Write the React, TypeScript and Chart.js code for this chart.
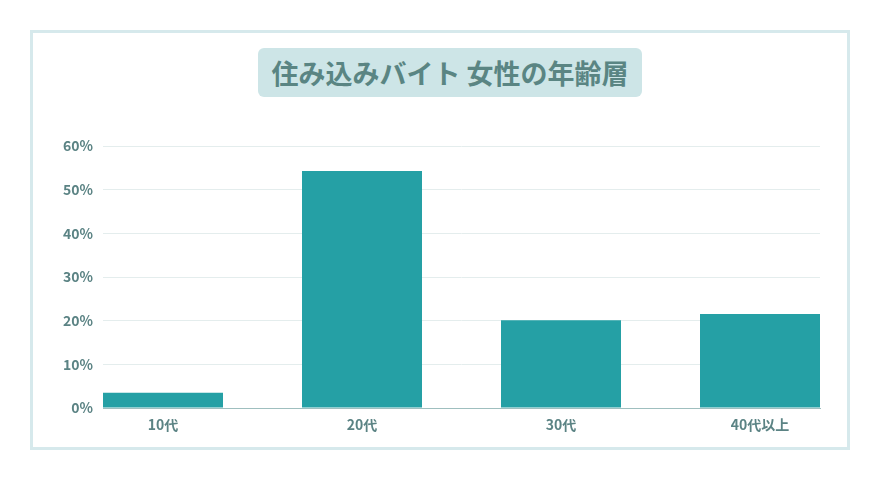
import React, { useEffect, useRef } from "react";
import { Chart, registerables } from "chart.js";

Chart.register(...registerables);

const title = "住み込みバイト 女性の年齢層";
const categories = ["10代", "20代", "30代", "40代以上"];
const values = [3.5, 54.3, 20.1, 21.5];
const yTicks = [0, 10, 20, 30, 40, 50, 60];

const FONT = "'Noto Sans CJK JP', 'Noto Sans', sans-serif";
const TEXT = "#5b8384";

export default function App() {
  const ref = useRef<HTMLCanvasElement | null>(null);

  useEffect(() => {
    if (!ref.current) return;
    const chart = new Chart(ref.current, {
      type: "bar",
      data: {
        datasets: [
          {
            data: categories.map((_, i) => ({ x: i, y: values[i] })),
            backgroundColor: "#25a0a5",
            borderWidth: 0,
            barPercentage: 0.603,
            categoryPercentage: 1,
          },
        ],
      },
      options: {
        animation: false,
        responsive: false,
        devicePixelRatio: 1,
        layout: { padding: { left: 35, right: 52, top: 138, bottom: 34 } },
        plugins: { legend: { display: false }, tooltip: { enabled: false }, title: { display: false } },
        scales: {
          x: {
            type: "linear",
            offset: false,
            min: -0.3015,
            max: 3.3015,
            afterFit: (s: any) => {
              s.height = 30;
            },
            grid: { display: false, drawTicks: false, offset: false },
            border: { display: true, color: "#9fbfbf", width: 1 },
            ticks: {
              stepSize: 1,
              includeBounds: false,
              padding: 8,
              color: TEXT,
              font: { family: FONT, size: 14, weight: "bold" },
              callback: (v: any) => (Number.isInteger(v) ? categories[v] ?? "" : ""),
            },
          },
          y: {
            min: yTicks[0],
            max: yTicks[yTicks.length - 1],
            afterFit: (s: any) => {
              s.width = 60;
            },
            afterBuildTicks: (s: any) => {
              s.ticks = yTicks.map((v) => ({ value: v }));
            },
            grid: { color: "#e4eded", drawTicks: false, lineWidth: 1 },
            border: { display: false },
            ticks: {
              padding: 10,
              color: TEXT,
              font: { family: FONT, size: 14, weight: "bold" },
              callback: (v: any) => v + "%",
            },
          },
        },
      },
    } as any);
    return () => chart.destroy();
  }, []);

  return (
    <div style={{ position: "relative", width: 864, height: 464, background: "#fff" }}>
      <div
        style={{
          position: "absolute",
          left: 22,
          top: 22,
          width: 820,
          height: 420,
          border: "3px solid #d6e9ec",
          boxSizing: "border-box",
        }}
      />
      <div
        style={{
          position: "absolute",
          left: 250,
          top: 40,
          width: 384,
          height: 49,
          background: "#cde5e7",
          borderRadius: 6,
          display: "flex",
          alignItems: "center",
          justifyContent: "center",
          color: "#5a8583",
          fontFamily: FONT,
          fontWeight: 700,
          fontSize: 27,
          whiteSpace: "nowrap",
        }}
      >
        {title}
      </div>
      <canvas ref={ref} width={864} height={464} style={{ position: "absolute", left: 0, top: 0 }} />
    </div>
  );
}
